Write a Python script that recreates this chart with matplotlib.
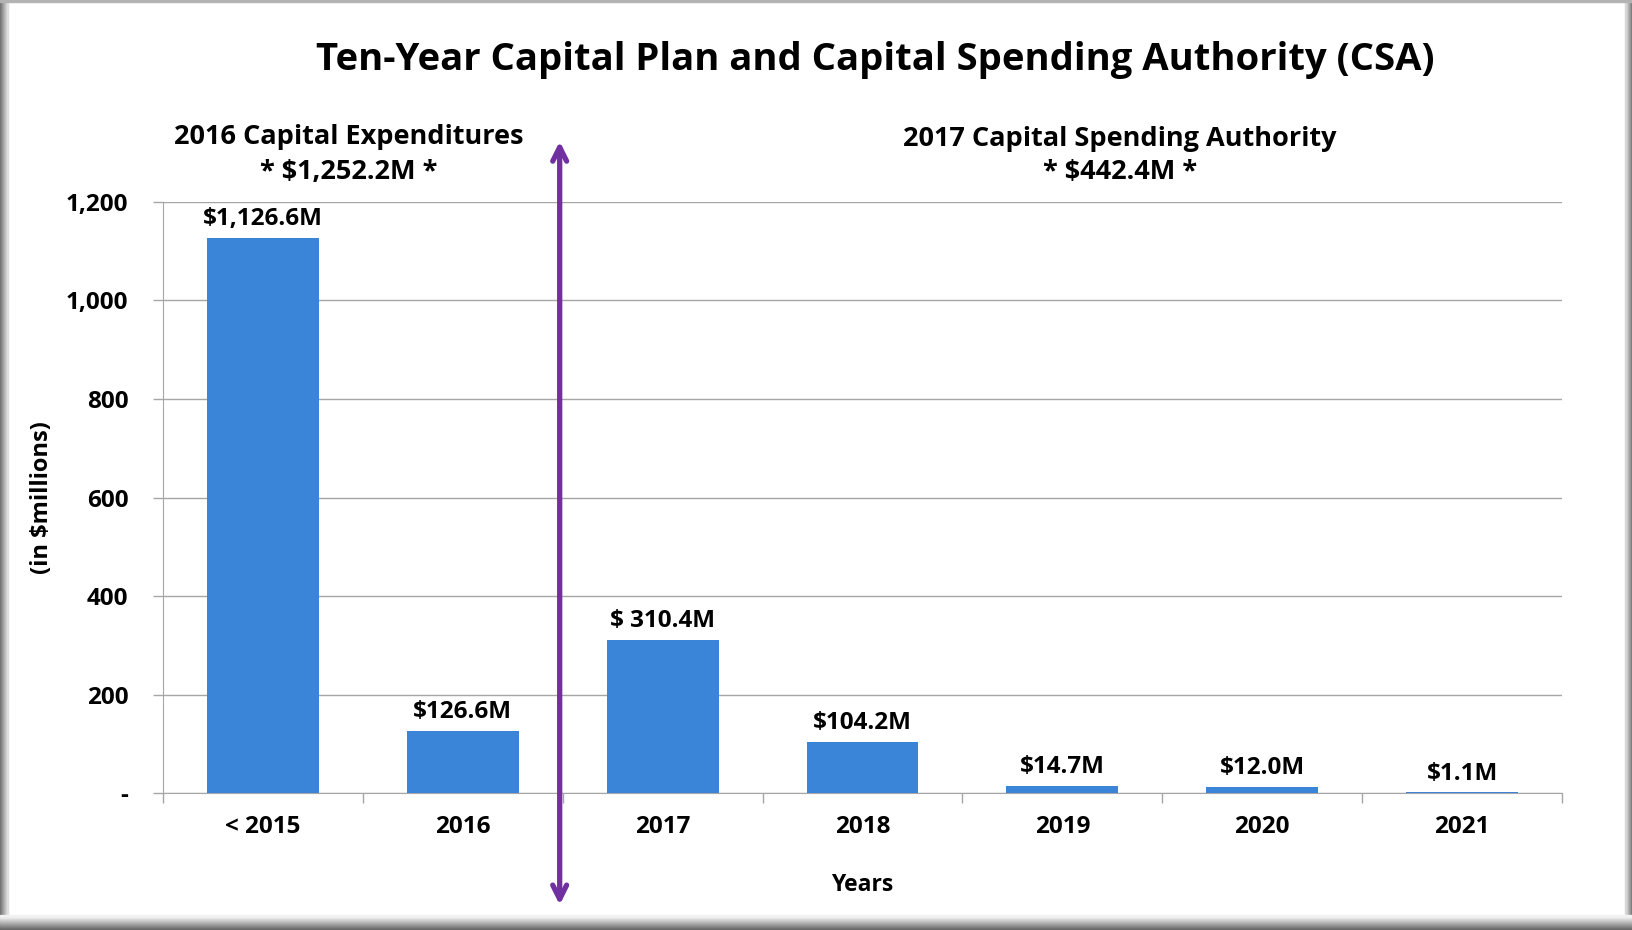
import matplotlib.pyplot as plt
from matplotlib.patches import Rectangle

# données du graphique (en millions de dollars)
years = ['< 2015', '2016', '2017', '2018', '2019', '2020', '2021']
spend = [1126.6, 126.6, 310.4, 104.2, 14.7, 12.0, 1.1]
value_labels = ['$1,126.6M', '$126.6M', '$ 310.4M', '$104.2M', '$14.7M', '$12.0M', '$1.1M']
y_ticks = [0, 200, 400, 600, 800, 1000, 1200]
y_tick_labels = ['-', '200', '400', '600', '800', '1,000', '1,200']

bar_color = '#3A85D8'
arrow_color = '#7030A0'
grid_color = '#A6A6A6'
calib = ['Open Sans', 'DejaVu Sans']

fig = plt.figure(figsize=(16.33, 9.30), dpi=100)
fig.patch.set_facecolor('white')

# cadre avec ombre (gauche, droite, bas)
W, H = 1633, 930
for i in range(8):
    g = 0.45 + i * 0.06
    fig.patches.append(Rectangle((i / W, 0), 1 / W, 1, transform=fig.transFigure,
                                 color=str(g), zorder=0))
    fig.patches.append(Rectangle((1 - (i + 1) / W, 0), 1 / W, 1, transform=fig.transFigure,
                                 color=str(0.35 + i * 0.07), zorder=0))
for i in range(15):
    g = min(0.35 + i * 0.045, 0.95)
    fig.patches.append(Rectangle((0, i / H), 1, 1 / H, transform=fig.transFigure,
                                 color=str(g), zorder=0))
fig.patches.append(Rectangle((0, 1 - 2 / H), 1, 2 / H, transform=fig.transFigure,
                             color='0.7', zorder=0))

ax = fig.add_axes([0.0998, 0.1473, 0.8567, 0.6355])
x = list(range(len(years)))
ax.bar(x, spend, width=0.56, color=bar_color, zorder=3)
ax.set_xlim(-0.5, len(years) - 0.5)
ax.set_ylim(0, 1200)

# étiquettes de valeur au-dessus des barres
for xi, v, lab in zip(x, spend, value_labels):
    ax.annotate(lab, (xi, v), xytext=(0, 5), textcoords='offset points',
                ha='center', va='bottom', fontsize=17.5, fontweight='bold',
                family=calib, color='black')

ax.set_yticks(y_ticks)
ax.set_yticklabels(y_tick_labels, fontsize=17.5, fontweight='bold', family=calib)
ax.set_xticks(x)
ax.set_xticklabels(years, fontsize=17.5, fontweight='bold', family=calib)
ax.set_xticks([i - 0.5 for i in range(len(years) + 1)], minor=True)
ax.tick_params(axis='x', which='major', length=0, pad=16)
ax.tick_params(axis='x', which='minor', length=7, color=grid_color, width=1)
ax.tick_params(axis='y', length=7, color=grid_color, width=1, pad=18)

ax.grid(axis='y', color=grid_color, linewidth=1, zorder=0)
for s in ['top', 'right']:
    ax.spines[s].set_visible(False)
ax.spines['left'].set_color(grid_color)
ax.spines['bottom'].set_color(grid_color)

ax.set_xlabel('Years', fontsize=16.5, fontweight='bold', family=calib, labelpad=24)
fig.text(0.026, 0.4645, '(in $millions)', rotation=90, ha='center', va='center',
         fontsize=17, fontweight='bold', family=calib)

fig.text(0.536, 0.935, 'Ten-Year Capital Plan and Capital Spending Authority (CSA)',
         ha='center', va='center', fontsize=27.5, fontweight='bold', family=calib)

# en-têtes des deux périodes
fig.text(0.2137, 0.853, '2016 Capital Expenditures', ha='center', va='center',
         fontsize=19.5, fontweight='bold', family=calib)
fig.text(0.2137, 0.815, '* $1,252.2M *', ha='center', va='center',
         fontsize=19.5, fontweight='bold', family=calib)
fig.text(0.686, 0.851, '2017 Capital Spending Authority', ha='center', va='center',
         fontsize=19.5, fontweight='bold', family=calib)
fig.text(0.686, 0.815, '* $442.4M *', ha='center', va='center',
         fontsize=19.5, fontweight='bold', family=calib)

# flèche verticale séparant les deux périodes
ax.annotate('', xy=(1.485, 0.848), xytext=(1.485, 0.027),
            xycoords=('data', 'figure fraction'), textcoords=('data', 'figure fraction'),
            arrowprops=dict(arrowstyle='<->,head_length=1.0,head_width=0.5',
                            color=arrow_color, lw=3.8, shrinkA=0, shrinkB=0),
            annotation_clip=False, zorder=5)

fig.savefig('out.png', dpi=100)
